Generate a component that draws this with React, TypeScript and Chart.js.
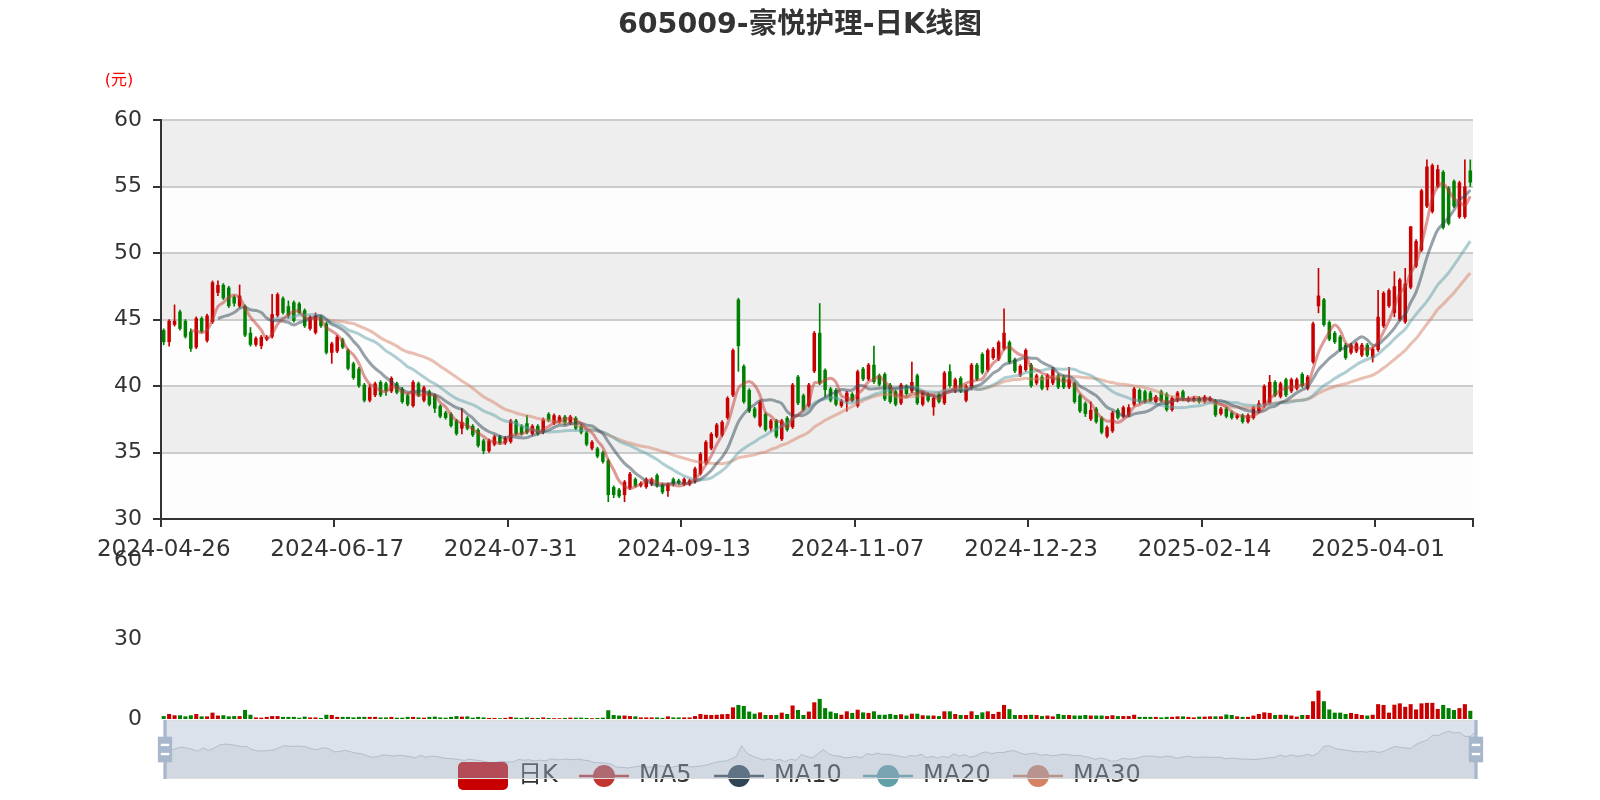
import React, { useEffect, useRef } from 'react';
import { Chart, registerables } from 'chart.js';

Chart.register(...registerables);

const FONT = "'DejaVu Sans', 'Noto Sans CJK SC', sans-serif";

const TITLE = '605009-豪悦护理-日K线图';
const PRICE_UNIT = '(元)';
const KLINE_NAME = '日K';
const MA_NAMES = ['MA5', 'MA10', 'MA20', 'MA30'];
const MA_PERIODS = [5, 10, 20, 30];
const MA_COLORS = ['#c23531', '#2f4554', '#61a0a8', '#d48265'];
const MA_LINE_COLORS = ['rgba(194,53,49,0.5)', 'rgba(47,69,84,0.5)', 'rgba(97,160,168,0.5)', 'rgba(212,130,101,0.5)'];
const UP = '#c80000';
const DOWN = '#008000';

// trading days (month, day list)
const tradingDays: [string, string][] = [
  ['2024-04', '26 29 30'],
  ['2024-05', '06 07 08 09 10 13 14 15 16 17 20 21 22 23 24 27 28 29 30 31'],
  ['2024-06', '03 04 05 06 07 11 12 13 14 17 18 19 20 21 24 25 26 27 28'],
  ['2024-07', '01 02 03 04 05 08 09 10 11 12 15 16 17 18 19 22 23 24 25 26 29 30 31'],
  ['2024-08', '01 02 05 06 07 08 09 12 13 14 15 16 19 20 21 22 23 26 27 28 29 30'],
  ['2024-09', '02 03 04 05 06 09 10 11 12 13 18 19 20 23 24 25 26 27 30'],
  ['2024-10', '08 09 10 11 14 15 16 17 18 21 22 23 24 25 28 29 30 31'],
  ['2024-11', '01 04 05 06 07 08 11 12 13 14 15 18 19 20 21 22 25 26 27 28 29'],
  ['2024-12', '02 03 04 05 06 09 10 11 12 13 16 17 18 19 20 23 24 25 26 27 30 31'],
  ['2025-01', '02 03 06 07 08 09 10 13 14 15 16 17 20 21 22 23 24 27'],
  ['2025-02', '05 06 07 10 11 12 13 14 17 18 19 20 21 24 25 26 27 28'],
  ['2025-03', '03 04 05 06 07 10 11 12 13 14 17 18 19 20 21 24 25 26 27 28 31'],
  ['2025-04', '01 02 03 07 08 09 10 11 14 15 16 17 18 21 22 23 24 25'],
];
const dates: string[] = tradingDays.flatMap(([m, ds]) => ds.split(' ').map((d) => `${m}-${d}`));

const opens = [
  44.2, 43.3, 44.6, 45.6, 44.9, 44.1, 42.9, 45.1, 43.4, 44.8,
  47.0, 47.6, 47.4, 46.7, 46.0, 46.0, 44.0, 43.1, 43.0, 43.5,
  43.7, 45.3, 46.6, 46.0, 46.3, 46.2, 45.7, 44.3, 44.0, 45.2,
  44.7, 42.5, 42.6, 43.5, 42.7, 41.7, 41.3, 40.1, 38.9, 39.3,
  40.3, 40.2, 39.6, 40.2, 39.8, 39.3, 38.5, 40.2, 38.9, 39.6,
  39.3, 38.5, 38.0, 37.9, 37.4, 36.8, 37.6, 37.0, 36.7, 35.9,
  35.1, 35.6, 36.2, 35.7, 35.8, 37.4, 37.0, 37.2, 36.4, 37.0,
  36.5, 37.9, 37.2, 37.3, 37.7, 37.2, 37.6, 37.0, 36.5, 35.3,
  35.3, 35.0, 34.4, 32.4, 32.2, 31.8, 32.3, 33.0, 32.5, 32.4,
  32.6, 33.3, 32.6, 32.1, 33.0, 32.9, 32.6, 32.6, 32.8, 33.4,
  34.2, 35.3, 36.2, 36.3, 37.6, 39.3, 46.5, 41.5, 39.7, 38.3,
  37.0, 37.9, 36.8, 37.4, 36.0, 37.6, 36.9, 40.7, 39.3, 38.5,
  41.1, 44.0, 41.2, 39.8, 39.7, 38.5, 38.8, 39.4, 38.5, 41.3,
  40.5, 41.6, 40.8, 40.9, 40.1, 39.6, 38.7, 40.0, 39.6, 40.8,
  38.6, 39.4, 38.4, 39.4, 38.7, 41.1, 39.6, 40.6, 38.9, 39.8,
  41.6, 42.4, 41.2, 42.1, 42.0, 42.8, 43.3, 42.0, 40.8, 41.2,
  41.6, 40.2, 40.7, 39.9, 40.2, 40.8, 40.7, 39.9, 40.2, 39.3,
  38.7, 37.5, 38.3, 37.6, 36.2, 36.6, 38.2, 37.7, 37.8, 38.6,
  39.7, 39.6, 39.5, 38.8, 39.6, 39.4, 38.2, 38.9, 39.6, 38.9,
  38.9, 39.1, 38.8, 38.9, 38.9, 37.9, 38.3, 38.0, 37.6, 37.8,
  37.3, 37.6, 38.1, 38.6, 38.7, 40.3, 39.2, 40.5, 39.6, 39.8,
  40.9, 39.8, 41.8, 46.0, 46.5, 44.8, 44.0, 43.7, 43.1, 42.5,
  42.6, 42.3, 43.1, 42.1, 42.7, 44.5, 46.0, 45.5, 45.0, 44.8,
  47.4, 49.0, 50.2, 53.5, 53.1, 55.0, 56.1, 54.9, 55.4, 52.7,
  52.7, 56.2,
];

const closes = [
  43.3, 44.9, 44.9, 44.3, 43.7, 42.8, 45.1, 44.1, 45.3, 47.8,
  47.6, 46.6, 46.0, 46.2, 46.8, 43.8, 43.1, 43.6, 43.7, 43.7,
  45.4, 46.9, 45.5, 45.3, 44.9, 45.5, 44.5, 45.2, 45.3, 44.5,
  42.5, 43.2, 43.7, 42.9, 41.3, 40.6, 40.0, 38.9, 39.9, 40.2,
  39.3, 39.6, 40.6, 39.5, 38.8, 38.6, 40.3, 39.3, 39.9, 38.6,
  38.3, 37.7, 37.6, 37.0, 36.4, 37.3, 36.8, 36.3, 35.5, 35.1,
  35.9, 36.2, 35.7, 36.1, 37.4, 36.4, 36.4, 36.5, 37.0, 36.4,
  37.5, 37.4, 37.8, 37.7, 37.2, 37.7, 36.8, 36.5, 35.6, 35.8,
  34.7, 34.3, 31.8, 31.8, 31.7, 32.8, 33.4, 32.5, 32.7, 33.0,
  33.0, 32.5, 32.0, 32.6, 32.6, 32.7, 33.0, 32.9, 33.8, 34.9,
  35.8, 36.4, 37.1, 37.3, 39.1, 42.7, 43.0, 38.8, 38.1, 37.7,
  38.8, 36.7, 37.4, 36.2, 37.4, 36.7, 40.1, 38.7, 38.2, 40.1,
  44.0, 40.2, 39.7, 38.9, 38.6, 38.9, 39.5, 38.9, 41.1, 40.5,
  41.6, 40.3, 40.1, 39.0, 38.8, 38.6, 40.1, 39.4, 40.3, 38.7,
  39.5, 38.9, 39.1, 38.8, 41.0, 40.0, 40.5, 39.6, 40.0, 41.6,
  40.5, 41.0, 42.7, 42.8, 43.3, 44.0, 41.8, 41.1, 41.5, 42.7,
  40.0, 40.8, 39.8, 40.8, 41.3, 39.9, 39.9, 40.5, 38.8, 38.1,
  37.9, 38.2, 37.3, 36.5, 36.9, 38.0, 37.6, 38.4, 38.4, 39.8,
  38.8, 38.8, 38.9, 39.2, 38.9, 38.2, 39.1, 39.5, 39.0, 39.1,
  39.1, 38.8, 39.2, 39.1, 37.8, 38.3, 37.7, 37.6, 37.8, 37.3,
  37.8, 38.4, 38.7, 40.0, 40.3, 39.3, 40.2, 39.3, 40.5, 40.5,
  40.0, 40.7, 44.7, 46.8, 44.6, 43.5, 43.3, 42.7, 42.1, 43.1,
  43.2, 43.1, 42.3, 42.8, 45.2, 47.0, 47.2, 47.5, 48.0, 47.7,
  52.0, 50.9, 54.7, 56.5, 56.6, 56.3, 51.9, 52.2, 53.5, 55.3,
  55.0, 55.3,
];

const highs = [
  44.3, 45.0, 46.1, 45.7, 45.0, 44.3, 45.2, 45.2, 45.4, 47.9,
  47.9, 47.7, 47.5, 46.8, 47.6, 46.1, 44.4, 43.7, 43.8, 43.8,
  46.9, 47.0, 46.7, 46.4, 46.4, 46.3, 45.8, 45.3, 45.5, 45.3,
  44.8, 43.3, 43.8, 43.6, 42.8, 41.8, 41.4, 40.2, 40.1, 40.3,
  40.4, 40.3, 40.7, 40.3, 39.9, 39.4, 40.4, 40.3, 40.0, 39.7,
  39.4, 38.6, 38.1, 38.0, 37.5, 38.3, 37.7, 37.1, 36.8, 36.0,
  36.0, 36.3, 36.3, 36.2, 37.5, 37.5, 37.1, 37.8, 37.1, 37.1,
  37.6, 38.0, 37.9, 37.8, 37.8, 37.8, 37.7, 37.1, 36.6, 35.9,
  35.4, 35.1, 34.5, 32.5, 32.3, 32.9, 33.5, 33.1, 32.8, 33.1,
  33.1, 33.4, 32.7, 32.7, 33.1, 33.0, 33.1, 33.0, 33.9, 35.0,
  35.9, 36.5, 37.2, 37.4, 39.2, 42.8, 46.6, 41.6, 39.8, 38.4,
  38.9, 38.0, 37.5, 37.5, 37.5, 37.7, 40.2, 40.8, 39.4, 40.2,
  44.1, 46.2, 41.3, 39.9, 39.8, 39.0, 39.6, 39.5, 41.2, 41.4,
  41.7, 43.0, 40.9, 41.0, 40.2, 39.7, 40.2, 40.1, 41.8, 40.9,
  39.6, 39.5, 39.2, 39.5, 41.1, 41.6, 40.6, 40.7, 40.1, 41.7,
  41.7, 42.5, 42.8, 42.9, 43.4, 45.8, 43.4, 42.1, 41.6, 42.8,
  41.7, 40.9, 40.8, 40.9, 41.4, 40.9, 40.8, 41.4, 40.3, 39.4,
  38.8, 38.8, 38.4, 37.7, 37.0, 38.1, 38.3, 38.5, 38.6, 39.9,
  39.8, 39.7, 39.6, 39.3, 39.7, 39.5, 39.2, 39.6, 39.7, 39.2,
  39.2, 39.2, 39.3, 39.2, 39.0, 38.4, 38.4, 38.1, 37.9, 37.9,
  37.9, 38.5, 38.9, 40.1, 40.8, 40.4, 40.3, 40.6, 40.6, 40.6,
  41.0, 40.8, 44.8, 48.85, 46.6, 44.9, 44.1, 43.8, 43.2, 43.2,
  43.3, 43.2, 43.2, 42.9, 47.2, 47.1, 47.3, 48.6, 48.1, 48.85,
  52.0, 51.0, 54.8, 57.0, 56.7, 56.6, 56.2, 55.0, 55.5, 55.4,
  57.0, 57.0,
];

const lows = [
  43.1, 43.0, 44.5, 44.2, 43.6, 42.6, 42.8, 44.0, 43.3, 44.7,
  46.8, 46.5, 45.9, 46.0, 45.9, 43.7, 43.0, 43.0, 42.8, 43.4,
  43.6, 45.2, 45.4, 45.1, 44.8, 45.4, 44.4, 44.2, 43.9, 44.4,
  42.4, 41.7, 42.5, 42.8, 41.2, 40.5, 39.9, 38.8, 38.8, 39.2,
  39.2, 39.3, 39.5, 39.4, 38.7, 38.5, 38.4, 39.2, 38.8, 38.5,
  38.0, 37.6, 37.5, 36.9, 36.3, 36.4, 36.7, 36.2, 35.4, 34.9,
  35.0, 35.5, 35.6, 35.6, 35.7, 36.3, 36.3, 36.4, 36.3, 36.3,
  36.4, 37.3, 37.1, 37.2, 37.1, 37.1, 36.7, 36.4, 35.5, 35.2,
  34.6, 34.2, 31.3, 31.6, 31.6, 31.3, 32.2, 32.4, 32.4, 32.3,
  32.5, 32.4, 31.9, 31.7, 32.5, 32.6, 32.5, 32.5, 32.7, 33.3,
  34.1, 35.2, 36.1, 36.2, 37.5, 39.2, 41.1, 38.7, 38.0, 37.6,
  36.9, 36.6, 36.6, 36.1, 35.9, 36.6, 36.8, 38.6, 38.1, 38.4,
  41.0, 40.1, 39.2, 38.8, 38.5, 38.4, 38.1, 38.8, 38.4, 40.4,
  40.4, 40.2, 40.0, 38.9, 38.7, 38.5, 38.6, 39.3, 39.5, 38.6,
  38.5, 38.8, 37.8, 38.7, 38.6, 39.9, 39.5, 39.5, 38.8, 39.7,
  40.4, 40.9, 41.1, 42.0, 41.9, 42.7, 41.7, 41.0, 40.7, 41.1,
  39.9, 40.1, 39.7, 39.7, 40.1, 39.8, 39.8, 39.8, 38.7, 38.0,
  37.7, 37.4, 37.2, 36.4, 36.1, 36.5, 37.5, 37.6, 37.7, 38.5,
  38.7, 38.7, 38.8, 38.7, 38.8, 38.1, 38.1, 38.8, 38.9, 38.8,
  38.8, 38.7, 38.7, 38.8, 37.7, 37.8, 37.6, 37.5, 37.5, 37.2,
  37.2, 37.5, 38.0, 38.4, 38.6, 39.2, 39.1, 39.2, 39.5, 39.7,
  39.9, 39.7, 41.7, 45.5, 44.5, 43.4, 43.2, 42.6, 42.0, 42.4,
  42.5, 42.2, 42.2, 41.8, 42.6, 44.4, 45.9, 45.2, 44.9, 44.7,
  47.3, 48.9, 50.1, 53.4, 53.0, 54.9, 51.8, 52.1, 53.4, 52.6,
  52.6, 55.0,
];

const volumes = [
  1.1, 1.9, 1.4, 1.4, 1.0, 1.4, 1.9, 1.0, 1.0, 2.4,
  1.3, 1.4, 1.0, 1.1, 1.1, 3.4, 1.6, 0.6, 0.5, 0.8,
  1.1, 1.1, 0.8, 0.8, 0.8, 0.5, 0.9, 0.6, 0.6, 0.4,
  1.6, 1.5, 0.8, 0.8, 0.8, 0.6, 0.8, 0.8, 0.8, 0.8,
  0.6, 0.6, 0.8, 0.5, 0.5, 0.8, 0.8, 0.6, 0.5, 0.8,
  0.9, 0.6, 0.5, 0.8, 1.1, 0.9, 1.0, 0.5, 0.8, 0.6,
  0.4, 0.4, 0.3, 0.4, 0.8, 0.5, 0.4, 0.6, 0.4, 0.4,
  0.6, 0.4, 0.3, 0.3, 0.4, 0.5, 0.5, 0.5, 0.4, 0.3,
  0.4, 0.5, 3.3, 1.5, 1.3, 1.3, 1.1, 1.0, 0.6, 0.6,
  0.6, 0.6, 0.4, 1.0, 0.6, 0.6, 0.6, 0.6, 1.1, 1.9,
  1.6, 1.5, 1.6, 1.8, 1.9, 4.4, 5.3, 4.9, 2.8, 2.0,
  2.5, 1.5, 1.5, 1.5, 2.4, 1.9, 5.1, 3.4, 1.5, 2.8,
  6.3, 7.6, 4.1, 2.8, 2.2, 1.6, 2.9, 2.3, 3.5, 2.5,
  2.3, 2.9, 1.6, 1.6, 1.9, 1.5, 1.8, 1.3, 2.0, 2.0,
  1.4, 1.3, 1.3, 1.1, 2.9, 2.9, 1.9, 1.5, 1.5, 2.9,
  1.5, 2.5, 2.9, 1.9, 2.7, 5.3, 3.7, 1.5, 1.5, 1.5,
  1.6, 1.5, 1.1, 1.3, 1.0, 1.9, 1.5, 1.5, 1.3, 1.3,
  1.5, 1.3, 1.3, 1.3, 1.1, 1.4, 1.1, 1.1, 1.1, 1.6,
  0.8, 0.8, 0.8, 0.8, 0.6, 0.8, 0.8, 1.0, 1.0, 0.8,
  0.6, 0.9, 0.9, 1.0, 1.0, 1.0, 1.7, 1.5, 1.0, 0.8,
  0.8, 1.3, 1.9, 2.5, 2.3, 1.5, 1.6, 1.6, 1.3, 0.9,
  1.5, 1.5, 6.7, 10.7, 6.7, 3.6, 2.4, 2.4, 1.9, 2.3,
  1.9, 1.5, 1.3, 1.6, 5.6, 5.3, 2.4, 5.4, 5.9, 4.6,
  5.6, 3.6, 5.9, 6.1, 6.1, 3.8, 5.3, 4.1, 3.4, 4.1,
  5.6, 3.1,
];

const PRICE_MIN = 30;
const PRICE_MAX = 60;
const PRICE_STEP = 5;
const VOL_MIN = 0;
const VOL_MAX = 60;
const VOL_STEP = 30;
const LABEL_INTERVAL = 32;

function movingAverage(n: number): (number | null)[] {
  return closes.map((_, i) => {
    if (i < n) return null;
    let s = 0;
    for (let j = 0; j < n; j++) s += closes[i - j];
    return +(s / n).toFixed(3);
  });
}

export default function App() {
  const priceRef = useRef<HTMLCanvasElement>(null);
  const volRef = useRef<HTMLCanvasElement>(null);
  const sliderRef = useRef<HTMLCanvasElement>(null);

  useEffect(() => {
    Chart.defaults.font.family = FONT;
    Chart.defaults.color = '#333';
    const candleColors = closes.map((c, i) => (c >= opens[i] ? UP : DOWN));

    const bandsPlugin = {
      id: 'bands',
      beforeDraw(chart: any) {
        const { ctx, chartArea: a, scales } = chart;
        const y = scales.y;
        ctx.save();
        let k = 0;
        for (let v = PRICE_MIN; v < PRICE_MAX; v += PRICE_STEP, k++) {
          const top = y.getPixelForValue(v + PRICE_STEP);
          const bot = y.getPixelForValue(v);
          ctx.fillStyle = k % 2 === 0 ? 'rgba(250,250,250,0.3)' : 'rgba(200,200,200,0.3)';
          ctx.fillRect(a.left, top, a.right - a.left, bot - top);
        }
        ctx.restore();
      },
    };

    const decoPlugin = {
      id: 'deco',
      afterDraw(chart: any) {
        const { ctx, chartArea: a, scales } = chart;
        const x = scales.x;
        const band = (a.right - a.left) / dates.length;
        ctx.save();
        // x-axis tick marks at category boundaries
        ctx.strokeStyle = '#333';
        ctx.lineWidth = 2;
        ctx.beginPath();
        const marks: number[] = [];
        for (let i = 0; i < dates.length; i += LABEL_INTERVAL) marks.push(x.getPixelForValue(i) - band / 2);
        marks.push(a.right);
        marks.forEach((px) => {
          const p = Math.round(px);
          ctx.moveTo(p, a.bottom);
          ctx.lineTo(p, a.bottom + 8);
        });
        ctx.stroke();

        // title
        ctx.fillStyle = '#333';
        ctx.font = `bold 28.5px ${FONT}`;
        ctx.textAlign = 'center';
        ctx.textBaseline = 'middle';
        ctx.fillText(TITLE, 800, 26);

        // unit
        ctx.fillStyle = '#ff0000';
        ctx.font = `16px ${FONT}`;
        ctx.fillText(PRICE_UNIT, 119, 81);

        // legend
        const ly = 776;
        const lx = [458, 579, 714, 863, 1013];
        ctx.textAlign = 'left';
        ctx.font = `24px ${FONT}`;
        ctx.fillStyle = UP;
        ctx.beginPath();
        (ctx as any).roundRect(lx[0], 762, 50, 28, 5);
        ctx.fill();
        ctx.fillStyle = '#333';
        ctx.fillText(KLINE_NAME, lx[0] + 60, ly);
        MA_NAMES.forEach((name, i) => {
          const x0 = lx[i + 1];
          ctx.strokeStyle = MA_COLORS[i];
          ctx.lineWidth = 2.5;
          ctx.beginPath();
          ctx.moveTo(x0, ly);
          ctx.lineTo(x0 + 50, ly);
          ctx.stroke();
          ctx.fillStyle = MA_COLORS[i];
          ctx.beginPath();
          ctx.arc(x0 + 25, ly, 11, 0, Math.PI * 2);
          ctx.fill();
          ctx.fillStyle = '#333';
          ctx.fillText(name, x0 + 60, ly);
        });
        ctx.restore();
      },
    };

    const maDatasets = MA_PERIODS.map((p, i) => ({
      type: 'line' as const,
      label: MA_NAMES[i],
      data: movingAverage(p),
      borderColor: MA_LINE_COLORS[i],
      borderWidth: 3,
      pointRadius: 0,
      tension: 0.4,
      fill: false,
      order: 0,
    }));

    const price = new Chart(priceRef.current!, {
      type: 'bar',
      data: {
        labels: dates,
        datasets: [
          ...maDatasets,
          {
            type: 'bar',
            label: 'body',
            data: opens.map((o, i) => [o, closes[i]]),
            backgroundColor: candleColors,
            grouped: false,
            barPercentage: 0.65,
            categoryPercentage: 1,
            order: 1,
          },
          {
            type: 'bar',
            label: 'wick',
            data: lows.map((l, i) => [l, highs[i]]),
            backgroundColor: candleColors,
            grouped: false,
            barThickness: 1,
            order: 2,
          },
        ] as any,
      },
      options: {
        responsive: false,
        animation: false,
        devicePixelRatio: 1,
        events: [],
        layout: { padding: { left: 0, right: 127, top: 120, bottom: 231 } },
        plugins: { legend: { display: false }, tooltip: { enabled: false }, title: { display: false } },
        scales: {
          x: {
            type: 'category',
            offset: true,
            grid: { display: false, drawTicks: false },
            border: { display: true, color: '#333', width: 2 },
            ticks: { autoSkip: false, maxRotation: 0, minRotation: 0, font: { size: 23 }, color: '#333', padding: 17 },
            afterBuildTicks: (s: any) => {
              s.ticks = s.ticks.filter((t: any) => t.value % LABEL_INTERVAL === 0);
            },
            afterFit: (s: any) => {
              s.height = 50;
            },
          },
          y: {
            min: PRICE_MIN,
            max: PRICE_MAX,
            ticks: { stepSize: PRICE_STEP, font: { size: 22 }, color: '#333', padding: 11 },
            grid: { color: '#cccccc', lineWidth: 2, drawTicks: true, tickLength: 8, tickColor: '#333', tickWidth: 2 },
            border: { display: true, color: '#333', width: 2 },
            afterFit: (s: any) => {
              s.width = 161;
            },
          },
        } as any,
      },
      plugins: [bandsPlugin, decoPlugin],
    });

    const vol = new Chart(volRef.current!, {
      type: 'bar',
      data: {
        labels: dates,
        datasets: [
          {
            label: 'volume',
            data: volumes,
            backgroundColor: candleColors,
            barPercentage: 0.75,
            categoryPercentage: 1,
          },
        ],
      },
      options: {
        responsive: false,
        animation: false,
        devicePixelRatio: 1,
        events: [],
        layout: { padding: { left: 0, right: 127, top: 560, bottom: 81 } },
        plugins: { legend: { display: false }, tooltip: { enabled: false } },
        scales: {
          x: { type: 'category', display: false, offset: true },
          y: {
            min: VOL_MIN,
            max: VOL_MAX,
            ticks: { stepSize: VOL_STEP, font: { size: 22 }, color: '#333', padding: 19 },
            grid: { display: false, drawTicks: false },
            border: { display: false },
            afterFit: (s: any) => {
              s.width = 161;
            },
          },
        } as any,
      },
    });

    const oMin = Math.min(...opens);
    const oMax = Math.max(...opens);
    const pad = (oMax - oMin) * 0.3;

    const sliderPlugin = {
      id: 'sliderDeco',
      afterDraw(chart: any) {
        const { ctx, chartArea: a } = chart;
        ctx.save();
        ctx.fillStyle = 'rgba(167,183,204,0.4)';
        ctx.fillRect(a.left, a.top, a.right - a.left, a.bottom - a.top);
        ctx.strokeStyle = '#ddd';
        ctx.lineWidth = 1;
        ctx.strokeRect(a.left + 0.5, a.top + 0.5, a.right - a.left - 1, a.bottom - a.top - 1);
        const s = (a.bottom - a.top) / 34.3;
        [a.left, a.right].forEach((cx: number) => {
          ctx.fillStyle = '#a7b7cc';
          ctx.fillRect(cx - 0.95 * s, a.top, 1.9 * s, a.bottom - a.top);
          ctx.fillRect(cx - 4.15 * s, a.top + (13.6 - 3.9) * s, 8.3 * s, 14.9 * s);
          ctx.fillStyle = '#fff';
          ctx.fillRect(cx - 2.45 * s, a.top + (17.7 - 3.9) * s, 4.9 * s, 1.4 * s);
          ctx.fillRect(cx - 2.45 * s, a.top + (23.0 - 3.9) * s, 4.9 * s, 1.4 * s);
        });
        ctx.restore();
      },
    };

    const slider = new Chart(sliderRef.current!, {
      type: 'line',
      data: {
        labels: dates,
        datasets: [
          {
            label: 'shadow',
            data: opens,
            borderColor: 'rgba(47,69,84,0.3)',
            borderWidth: 1,
            pointRadius: 0,
            tension: 0,
            fill: 'start',
            backgroundColor: 'rgba(47,69,84,0.09)',
          },
        ],
      },
      options: {
        responsive: false,
        animation: false,
        devicePixelRatio: 1,
        events: [],
        layout: { padding: { left: 165, right: 124, top: 720, bottom: 21 } },
        plugins: { legend: { display: false }, tooltip: { enabled: false } },
        scales: {
          x: { type: 'category', display: false, offset: false },
          y: { display: false, min: oMin - pad, max: oMax + pad },
        } as any,
      },
      plugins: [sliderPlugin],
    });

    return () => {
      price.destroy();
      vol.destroy();
      slider.destroy();
    };
  }, []);

  const cs: React.CSSProperties = { position: 'absolute', left: 0, top: 0, width: 1600, height: 800 };
  return (
    <div style={{ position: 'fixed', left: 0, top: 0, width: 1600, height: 800, background: '#fff' }}>
      <canvas ref={priceRef} width={1600} height={800} style={cs} />
      <canvas ref={volRef} width={1600} height={800} style={cs} />
      <canvas ref={sliderRef} width={1600} height={800} style={cs} />
    </div>
  );
}
